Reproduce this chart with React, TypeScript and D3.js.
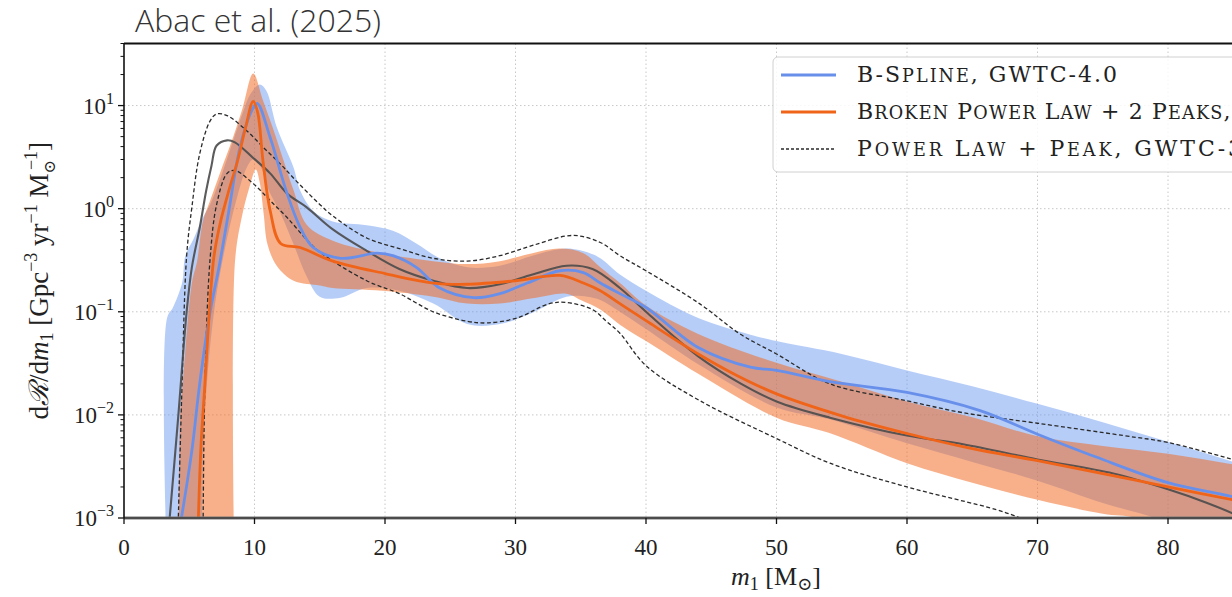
import React from "react";
import * as d3 from "d3";

// ---- data (x = m1 [Msun], y = dR/dm1) ----
const xTicks = [0, 10, 20, 30, 40, 50, 60, 70, 80, 90, 100];
const yTicks = [1e-3, 1e-2, 1e-1, 1, 10];
const yTickExps = ["−3", "−2", "−1", "0", "1"];

const bsplineMedian: [number, number][] = [[4.4,0.001],[5.2,0.0045],[5.8,0.02],[6.6,0.1],[7.3,0.28],[8.0,0.9],[8.9,4],[9.8,9],[10.2,10.5],[11.2,4.9],[12.5,1.4],[13.5,0.66],[14.5,0.42],[16.6,0.33],[19.4,0.37],[20.6,0.35],[22.4,0.27],[24.2,0.17],[26.8,0.137],[28.8,0.15],[30.9,0.19],[33.4,0.25],[35.2,0.24],[36.5,0.19],[38,0.15],[40,0.11],[44,0.045],[48,0.029],[50,0.027],[54.1,0.021],[60,0.0165],[65.6,0.011],[70,0.0065],[74.5,0.0039],[80,0.0022],[85,0.0016],[90,0.0011]];
const bsplineUpper: [number, number][] = [[3.3,0.0003],[3.3,0.087],[3.75,0.11],[4.45,0.19],[4.7,0.35],[5.3,0.5],[6,0.8],[6.6,1.1],[7.4,2],[8.35,4.5],[9.1,8.5],[9.7,13],[10.4,16],[10.9,14],[11.7,6.2],[13,2.5],[13.5,1.5],[14.5,0.95],[16,0.75],[18.6,0.69],[20.6,0.61],[22.4,0.46],[24.2,0.33],[26.3,0.27],[28.8,0.28],[31.3,0.35],[33.9,0.41],[35.7,0.37],[36.5,0.33],[38,0.23],[40,0.16],[44,0.087],[48,0.06],[50,0.052],[55,0.039],[60,0.027],[65,0.019],[70,0.0128],[75,0.0085],[80,0.0055],[85,0.0035],[90,0.0022]];
const bsplineLower: [number, number][] = [[5.9,0.0003],[6.2,0.01],[6.9,0.1],[7.7,0.39],[8.6,1.2],[9.4,2.5],[9.9,3],[10.5,2.5],[11,1.6],[12,0.9],[13,0.45],[14,0.22],[15,0.14],[16.6,0.137],[18.6,0.17],[21.1,0.16],[23.7,0.12],[26.3,0.076],[28.8,0.076],[31.3,0.098],[33.9,0.14],[35.5,0.14],[36.5,0.13],[38,0.1],[40,0.068],[44,0.031],[50,0.0118],[54,0.0091],[60,0.0053],[65,0.0035],[70,0.0023],[75,0.0014],[79,0.001],[82,0.0007],[90,0.0003]];

const bplMedian: [number, number][] = [[5.7,0.001],[5.9,0.005],[6.2,0.02],[6.6,0.13],[6.9,0.35],[7.4,0.75],[8.1,1.6],[8.7,2.9],[9.3,6],[9.9,11],[10.25,8.5],[10.65,2.9],[11.2,0.96],[12,0.46],[13.5,0.42],[16,0.31],[20,0.235],[23.7,0.19],[26.3,0.185],[30,0.2],[33.4,0.225],[35.2,0.19],[36.5,0.16],[38,0.12],[40,0.082],[44,0.039],[47,0.024],[50,0.016],[55,0.0098],[60,0.0066],[65,0.0047],[70,0.0036],[75,0.0027],[80,0.002],[85,0.0015],[90,0.0011]];
const bplUpper: [number, number][] = [[4.2,0.0003],[4.3,0.01],[4.5,0.02],[5.2,0.19],[5.6,0.31],[6.05,0.76],[6.6,1.2],[7.4,2.3],[8.35,4.9],[9.1,9.6],[9.9,20.5],[10.65,11.2],[11.4,6.1],[12.2,3],[13,1.5],[14,0.7],[16,0.49],[19.8,0.37],[23.7,0.31],[26.3,0.29],[28.8,0.31],[31.3,0.37],[33.4,0.41],[35.2,0.37],[36.5,0.27],[38,0.19],[40,0.115],[44,0.061],[50,0.032],[55,0.021],[60,0.0135],[65,0.0095],[70,0.0062],[75,0.005],[80,0.0042],[85,0.0033],[90,0.0025]];
const bplLower: [number, number][] = [[8.45,0.0003],[8.5,0.3],[9.0,0.8],[9.6,1.6],[10.1,2.4],[10.4,1.8],[10.7,0.9],[11,0.45],[11.7,0.28],[13,0.2],[15,0.18],[16,0.17],[19.8,0.16],[23.7,0.14],[26.3,0.12],[28.8,0.12],[31.3,0.135],[33.9,0.15],[35,0.13],[36.5,0.105],[38,0.075],[40,0.052],[44,0.025],[50,0.0094],[54,0.0067],[60,0.0034],[65,0.0022],[70,0.0015],[75,0.0011],[77.5,0.001],[80,0.0007],[90,0.0003]];

const plpMedian: [number, number][] = [[3.5,0.001],[4.15,0.0094],[4.8,0.1],[5.2,0.27],[5.8,0.65],[6.3,1.5],[6.7,2.6],[7.1,4.1],[7.9,4.6],[8.5,4.4],[9.9,3.1],[11.2,2.2],[12.5,1.4],[14,1.03],[16,0.63],[18.6,0.39],[21.1,0.26],[23.7,0.2],[26.3,0.17],[28.8,0.185],[31.3,0.23],[33.9,0.28],[35.9,0.26],[38,0.17],[40,0.1],[44,0.037],[47.3,0.02],[50,0.0135],[54.1,0.0094],[60,0.0063],[64.3,0.0052],[70,0.0037],[75.8,0.0027],[80,0.0019],[83,0.0014],[85,0.0011],[88,0.0007]];
const plpUpper: [number, number][] = [[4.1,0.0005],[4.45,0.02],[4.8,0.35],[5.2,1.03],[5.8,3.4],[6.6,7.1],[7.1,8.3],[7.9,8],[9.4,5.7],[10.7,3.9],[12,2.7],[13.3,1.8],[15,1.1],[16,0.85],[18.6,0.52],[21.1,0.41],[23.7,0.33],[26.3,0.31],[28.8,0.35],[31.3,0.44],[34.4,0.55],[36.5,0.47],[38,0.35],[40,0.25],[44.1,0.12],[47.2,0.061],[50,0.039],[54.1,0.02],[60,0.0137],[64.3,0.0105],[70,0.0083],[76.6,0.0063],[80,0.0054],[85,0.0037],[90,0.0026]];
const plpLower: [number, number][] = [[6.05,0.0005],[6.2,0.02],[6.6,0.33],[7.1,1.1],[7.9,2.2],[8.5,2.35],[9.9,1.75],[11.2,1.2],[12.5,0.82],[14,0.5],[15,0.38],[18.6,0.2],[21.1,0.15],[23.7,0.1],[26.3,0.081],[27.8,0.078],[30.1,0.087],[32.6,0.12],[33.9,0.123],[35.9,0.105],[37,0.08],[38,0.062],[40,0.03],[44.1,0.0138],[50,0.0059],[54.1,0.0034],[60,0.002],[66.9,0.0012],[68.7,0.001],[72,0.0007]];

const legendLabels = ["B-Spline, GWTC-4.0", "Broken Power Law + 2 Peaks, GWTC-4.0", "Power Law + Peak, GWTC-3"];
const legendWidths = [260, 505, 385];

// ---- layout ----
const W = 1232, H = 597;
const L = 124, T = 43.5, B = 518;
const xScale = d3.scaleLinear().domain([0, 100]).range([L, L + 1305]);
const yScale = d3.scaleLog().domain([1e-3, 40]).range([B, T]);

const BLUE = "#6890ea";
const ORANGE = "#ef6418";
const serif = "'Liberation Serif', 'DejaVu Serif', serif";
const wideSerif = "'DejaVu Serif', 'Liberation Serif', serif";

const lineGen = d3.line<[number, number]>()
  .x(d => xScale(d[0]))
  .y(d => yScale(d[1]))
  .curve(d3.curveCatmullRom.alpha(0.5));

function bandPath(upper: [number, number][], lower: [number, number][]) {
  const up = lineGen(upper) || "";
  const lo = lineGen([...lower].reverse()) || "";
  return up + "L" + lo.slice(1) + "Z";
}

// manual small caps: lowercase runs rendered as smaller capitals
function smallCaps(label: string, size: number) {
  const runs = label.match(/[a-z]+|[^a-z]+/g) || [];
  return runs.map((r, i) =>
    /[a-z]/.test(r[0])
      ? <tspan key={i} fontSize={size * 0.8}>{r.toUpperCase()}</tspan>
      : <tspan key={i} fontSize={size}>{r}</tspan>
  );
}

export default function App() {
  const minor: number[] = [];
  for (const dec of [1e-3, 1e-2, 1e-1, 1, 10]) {
    for (let k = 2; k <= 9; k++) {
      const v = dec * k;
      if (v <= 40) minor.push(v);
    }
  }
  const visXTicks = xTicks.filter(t => xScale(t) <= W);
  return (
    <svg width={W} height={H} style={{ position: "absolute", left: 0, top: 0, background: "#fff" }}>
      <defs>
        <clipPath id="plot">
          <rect x={L} y={T} width={W - L + 10} height={B - T} />
        </clipPath>
      </defs>
      <text x={135} y={32} fontFamily="'Open Sans', sans-serif" fontWeight={300} fontSize={32} fill="#333">Abac et al. (2025)</text>

      {/* grid */}
      <g stroke="#c8c8c8" strokeWidth={1} strokeDasharray="1.5,2.5">
        {visXTicks.filter(t => t > 0).map(t => (
          <line key={"gx" + t} x1={xScale(t)} x2={xScale(t)} y1={T} y2={B} />
        ))}
        {yTicks.filter(t => t > 1e-3).map(t => (
          <line key={"gy" + t} x1={L} x2={W} y1={yScale(t)} y2={yScale(t)} />
        ))}
      </g>

      <g clipPath="url(#plot)">
        <path d={bandPath(bsplineUpper, bsplineLower)} fill="#6495ed" fillOpacity={0.47} stroke="none" />
        <path d={bandPath(bplUpper, bplLower)} fill="#f06a22" fillOpacity={0.53} stroke="none" />
        <path d={lineGen(plpUpper) || ""} fill="none" stroke="#2a2a2a" strokeWidth={1.3} strokeDasharray="4,2.5" />
        <path d={lineGen(plpLower) || ""} fill="none" stroke="#2a2a2a" strokeWidth={1.3} strokeDasharray="4,2.5" />
        <path d={lineGen(plpMedian) || ""} fill="none" stroke="#4a4a4a" strokeWidth={2.1} strokeOpacity={0.9} />
        <path d={lineGen(bsplineMedian) || ""} fill="none" stroke={BLUE} strokeWidth={2.8} />
        <path d={lineGen(bplMedian) || ""} fill="none" stroke={ORANGE} strokeWidth={2.8} />
      </g>

      {/* axes */}
      <line x1={L} x2={W} y1={B} y2={B} stroke="#777" strokeWidth={3} />
      <line x1={L} x2={W} y1={B} y2={B} stroke="#222" strokeWidth={1} />
      <line x1={L} x2={W} y1={T} y2={T} stroke="#111" strokeWidth={2} />
      <line x1={L} x2={L} y1={T} y2={B} stroke="#111" strokeWidth={1.6} />

      {visXTicks.map(t => (
        <g key={"xt" + t}>
          <line x1={xScale(t)} x2={xScale(t)} y1={B} y2={B + 6} stroke="#111" strokeWidth={1.3} />
          <text x={xScale(t)} y={555} textAnchor="middle" fontFamily={serif} fontSize={23} fill="#222">{t}</text>
        </g>
      ))}
      {yTicks.map((t, i) => (
        <g key={"yt" + t}>
          <line x1={L - 6} x2={L} y1={yScale(t)} y2={yScale(t)} stroke="#111" strokeWidth={1.3} />
          <text x={L - 10} y={yScale(t) + 8} textAnchor="end" fontFamily={serif} fontSize={23} fill="#222">
            10<tspan dy={-10} fontSize={16}>{yTickExps[i]}</tspan>
          </text>
        </g>
      ))}
      {minor.map(v => (
        <line key={"mt" + v} x1={L - 3.5} x2={L} y1={yScale(v)} y2={yScale(v)} stroke="#111" strokeWidth={1} />
      ))}

      {/* axis labels */}
      <text x={776} y={585} textAnchor="middle" fontFamily={serif} fontSize={26} fill="#222">
        <tspan fontStyle="italic">m</tspan><tspan fontSize={18} dy={5}>1</tspan><tspan dy={-5}> [M</tspan><tspan fontSize={18} dy={5}>⊙</tspan><tspan dy={-5}>]</tspan>
      </text>
      <text transform={`translate(48,${(T + B) / 2}) rotate(-90)`} textAnchor="middle" fontFamily={serif} fontSize={27} fill="#222">
        d<tspan fontStyle="italic">ℛ</tspan>/d<tspan fontStyle="italic">m</tspan><tspan fontSize={18} dy={5}>1</tspan>
        <tspan dy={-5}> [Gpc</tspan><tspan fontSize={18} dy={-11}>−3</tspan><tspan dy={11}> yr</tspan><tspan fontSize={18} dy={-11}>−1</tspan><tspan dy={11}> M</tspan><tspan fontSize={16} dy={7}>⊙</tspan><tspan fontSize={18} dx={-10} dy={-18}>−1</tspan><tspan dy={11}>]</tspan>
      </text>

      {/* legend */}
      <g>
        <rect x={773} y={57} width={500} height={115} rx={5} fill="#fff" fillOpacity={0.85} stroke="#d0d0d0" strokeWidth={1} />
        {legendLabels.map((lab, i) => {
          const yy = 75 + i * 37;
          return (
            <g key={lab}>
              {i === 0 && <line x1={781} x2={836} y1={yy} y2={yy} stroke={BLUE} strokeWidth={3} />}
              {i === 1 && <line x1={781} x2={836} y1={yy} y2={yy} stroke={ORANGE} strokeWidth={3} />}
              {i === 2 && <line x1={781} x2={836} y1={yy} y2={yy} stroke="#2a2a2a" strokeWidth={1.3} strokeDasharray="3,2" />}
              <text x={857} y={yy + 7} fontFamily={wideSerif} fontSize={22} textLength={legendWidths[i]} lengthAdjust="spacing" fill="#222">{smallCaps(lab, 22)}</text>
            </g>
          );
        })}
      </g>
    </svg>
  );
}
